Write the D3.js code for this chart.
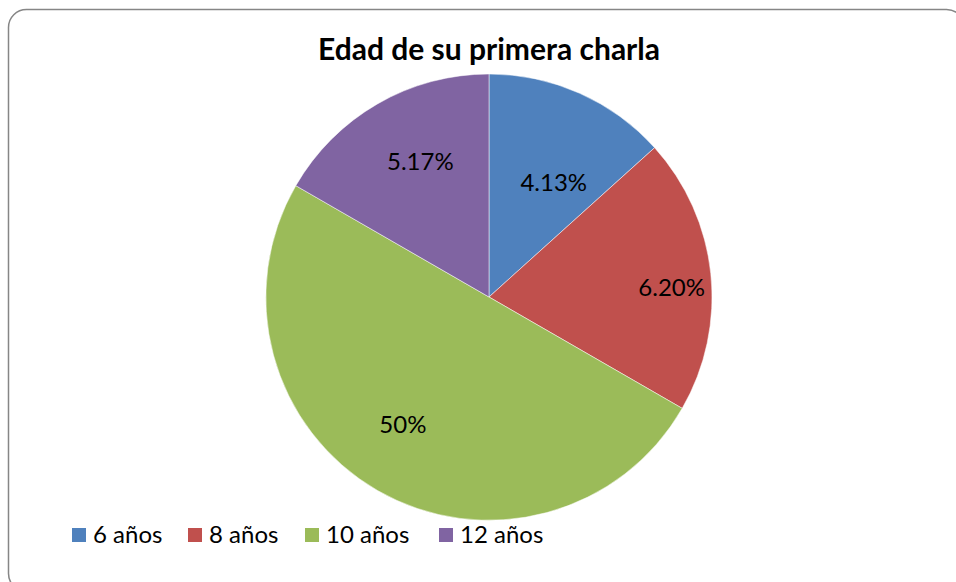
<!DOCTYPE html>
<html>
<head>
<meta charset="utf-8">
<script src="https://cdn.jsdelivr.net/npm/d3@7"></script>
<style>
  body { margin: 0; background: #fff; }
  svg { display: block; }
</style>
</head>
<body>
<div id="my_dataviz"></div>
<script>
// data
var categories = ["6 años", "8 años", "10 años", "12 años"];
var values = [4.13, 6.20, 15.5, 5.17];
var valueLabels = ["4.13%", "6.20%", "50%", "5.17%"];
var colors = ["#4F81BD", "#C0504D", "#9BBB59", "#8064A2"];

// label placement: distance from the centre (share of radius) and angle shift (deg)
var labelRadius = [0.59, 0.82, 0.69, 0.68];
var labelShift = [5.5, 3.2, 4.1, 3.1];

var width = 956, height = 582;
var cx = 489, cy = 297, radius = 223;

var svg = d3.select("#my_dataviz")
  .append("svg")
    .attr("width", width)
    .attr("height", height);

// chart border
svg.append("rect")
  .attr("x", 8.5)
  .attr("y", 9.5)
  .attr("width", 956)
  .attr("height", 582)
  .attr("rx", 18)
  .attr("fill", "#fff")
  .attr("stroke", "#868686")
  .attr("stroke-width", 1.5);

// title
svg.append("text")
  .attr("x", cx)
  .attr("y", 60)
  .attr("text-anchor", "middle")
  .style("font", "bold 30px Lato")
  .attr("fill", "#000")
  .text("Edad de su primera charla");

var pie = d3.pie().sort(null).value(function(d) { return d; });
var arcs = pie(values);

var arc = d3.arc().innerRadius(0).outerRadius(radius);

var g = svg.append("g")
  .attr("transform", "translate(" + cx + "," + cy + ")");

g.selectAll("path")
  .data(arcs)
  .enter()
  .append("path")
    .attr("d", arc)
    .attr("fill", function(d, i) { return colors[i]; })
    .attr("stroke", "#fff")
    .attr("stroke-width", 0.5);

// value labels
g.selectAll("text.value")
  .data(arcs)
  .enter()
  .append("text")
    .attr("class", "value")
    .attr("transform", function(d, i) {
      var r = radius * labelRadius[i];
      var a = (d.startAngle + d.endAngle) / 2 + labelShift[i] * Math.PI / 180;
      return "translate(" + (Math.sin(a) * r) + "," + (-Math.cos(a) * r) + ")";
    })
    .attr("text-anchor", "middle")
    .attr("dy", "0.35em")
    .style("font", "24px Lato")
    .attr("fill", "#000")
    .text(function(d, i) { return valueLabels[i]; });

// legend
var legendPos = [72, 188, 305, 439];

var legend = svg.selectAll("g.legend")
  .data(categories)
  .enter()
  .append("g")
    .attr("class", "legend")
    .attr("transform", function(d, i) { return "translate(" + legendPos[i] + ",535)"; });

legend.append("rect")
  .attr("x", 0)
  .attr("y", -7)
  .attr("width", 14)
  .attr("height", 14)
  .attr("fill", function(d, i) { return colors[i]; });

legend.append("text")
  .attr("x", 21)
  .attr("dy", "0.35em")
  .style("font", "24px Lato")
  .attr("fill", "#000")
  .text(function(d) { return d; });
</script>
</body>
</html>
